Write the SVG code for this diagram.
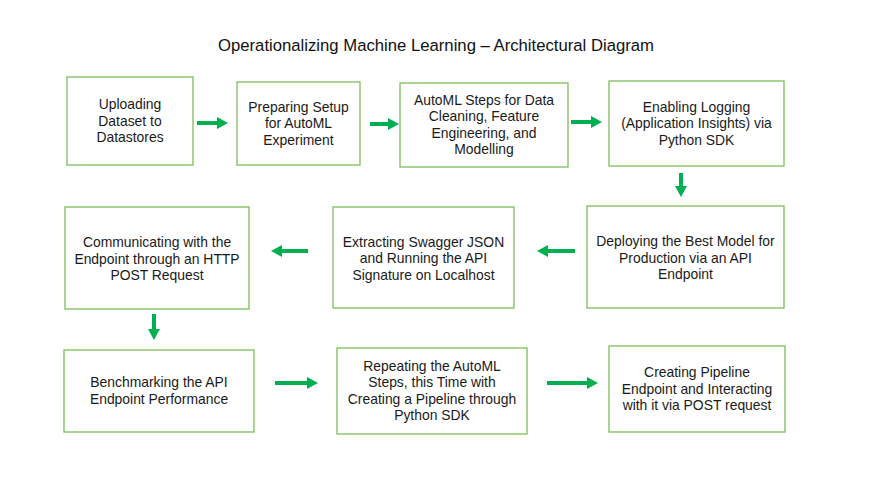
<svg xmlns="http://www.w3.org/2000/svg" width="889" height="500" viewBox="0 0 889 500">
<style>
.box{fill:#fff;stroke:#7DBE5A;stroke-width:1.3}
.t{font-family:"Liberation Sans",Arial,sans-serif;font-size:13.9px;fill:#1a1a1a;text-anchor:middle}
.title{font-family:"Liberation Sans",Arial,sans-serif;font-size:16.7px;fill:#111;text-anchor:middle}
.arr{stroke:#00B050;stroke-width:4;fill:none}
</style>
<defs>
<marker id="ah" markerUnits="userSpaceOnUse" markerWidth="11" markerHeight="12" refX="0" refY="6" orient="auto">
<path d="M0,0 L11,6 L0,12 Z" fill="#00B050"/>
</marker>
</defs>
<rect width="889" height="500" fill="#fff"/>
<text class="title" x="436" y="51">Operationalizing Machine Learning – Architectural Diagram</text>

<g id="n1"><rect class="box" x="67" y="77" width="126" height="88"/>
<text class="t" x="130" y="109">Uploading</text><text class="t" x="130" y="125.5">Dataset to</text><text class="t" x="130" y="142">Datastores</text></g>

<g id="n2"><rect class="box" x="237" y="82" width="123" height="83"/>
<text class="t" x="298.5" y="111.5">Preparing Setup</text><text class="t" x="298.5" y="128">for AutoML</text><text class="t" x="298.5" y="144.5">Experiment</text></g>

<g id="n3"><rect class="box" x="400" y="83" width="168" height="84"/>
<text class="t" x="484" y="104.5">AutoML Steps for Data</text><text class="t" x="484" y="121">Cleaning, Feature</text><text class="t" x="484" y="137.5">Engineering, and</text><text class="t" x="484" y="154">Modelling</text></g>

<g id="n4"><rect class="box" x="609" y="81" width="175" height="85"/>
<text class="t" x="696.5" y="111.5">Enabling Logging</text><text class="t" x="696.5" y="128">(Application Insights) via</text><text class="t" x="696.5" y="144.5">Python SDK</text></g>

<g id="n5"><rect class="box" x="587" y="206" width="197" height="102"/>
<text class="t" x="685.5" y="246">Deploying the Best Model for</text><text class="t" x="685.5" y="262.5">Production via an API</text><text class="t" x="685.5" y="279">Endpoint</text></g>

<g id="n6"><rect class="box" x="333" y="207" width="181" height="101"/>
<text class="t" x="423.5" y="246.5">Extracting Swagger JSON</text><text class="t" x="423.5" y="263">and Running the API</text><text class="t" x="423.5" y="279.5">Signature on Localhost</text></g>

<g id="n7"><rect class="box" x="65" y="207" width="184" height="102"/>
<text class="t" x="157" y="247">Communicating with the</text><text class="t" x="157" y="263.5">Endpoint through an HTTP</text><text class="t" x="157" y="280">POST Request</text></g>

<g id="n8"><rect class="box" x="64" y="350" width="190" height="82"/>
<text class="t" x="159" y="387">Benchmarking the API</text><text class="t" x="159" y="403.5">Endpoint Performance</text></g>

<g id="n9"><rect class="box" x="337" y="348" width="190" height="86"/>
<text class="t" x="432" y="370.5">Repeating the AutoML</text><text class="t" x="432" y="387">Steps, this Time with</text><text class="t" x="432" y="403.5">Creating a Pipeline through</text><text class="t" x="432" y="420">Python SDK</text></g>

<g id="n10"><rect class="box" x="609" y="346" width="176" height="86"/>
<text class="t" x="697" y="377">Creating Pipeline</text><text class="t" x="697" y="393.5">Endpoint and Interacting</text><text class="t" x="697" y="410">with it via POST request</text></g>

<g id="connectors">
<path class="arr" marker-end="url(#ah)" d="M197,123 H217"/>
<path class="arr" marker-end="url(#ah)" d="M370,124 H388"/>
<path class="arr" marker-end="url(#ah)" d="M571,122 H591"/>
<path class="arr" marker-end="url(#ah)" d="M681,173 V186"/>
<path class="arr" marker-end="url(#ah)" d="M575,251 H548"/>
<path class="arr" marker-end="url(#ah)" d="M308,251 H282"/>
<path class="arr" marker-end="url(#ah)" d="M154,314 V329"/>
<path class="arr" marker-end="url(#ah)" d="M275,383 H307"/>
<path class="arr" marker-end="url(#ah)" d="M547,383 H587"/>
</g>
</svg>
